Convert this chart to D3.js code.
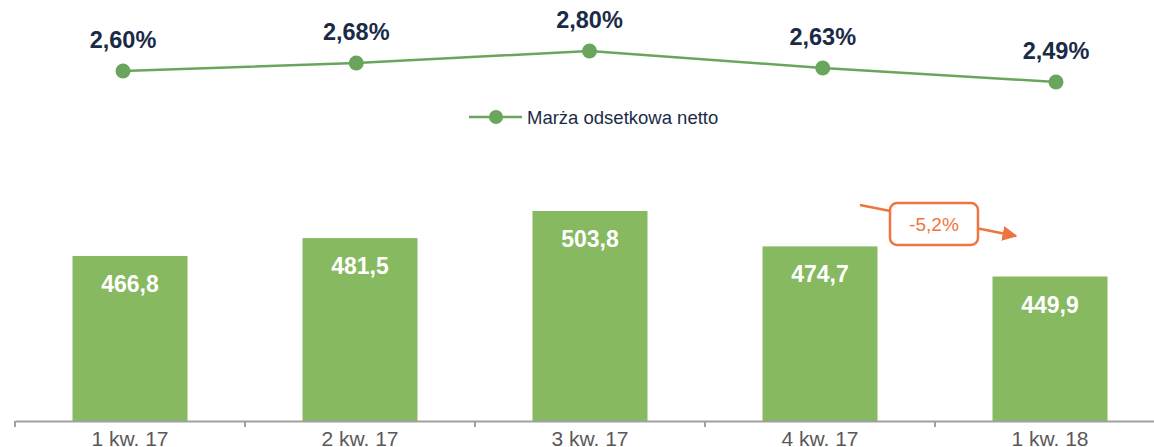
<!DOCTYPE html>
<html>
<head>
<meta charset="utf-8">
<script src="https://cdn.jsdelivr.net/npm/d3@7"></script>
<style>
  body { margin: 0; background: #fff; }
  svg { display: block; font-family: "Liberation Sans", Arial, sans-serif; }
</style>
</head>
<body>
<div id="chart"></div>
<script>
'use strict';

/** Data */
const quarters = ["1 kw. 17", "2 kw. 17", "3 kw. 17", "4 kw. 17", "1 kw. 18"];
const income = [466.8, 481.5, 503.8, 474.7, 449.9];
const margin = [2.60, 2.68, 2.80, 2.63, 2.49];
const seriesName = "Marża odsetkowa netto";
const changeLabel = "-5,2%";

const w = 1154;
const h = 447;
const green = "#86b960";
const lineGreen = "#6aa55d";
const navy = "#1b2b47";
const orange = "#ee7440";

const fmt = (v, d) => v.toFixed(d).replace(".", ",");

const svg = d3.select("#chart").append("svg")
  .attr("width", w)
  .attr("height", h);

/** Bars */
const xBand = d3.scaleBand()
  .domain(quarters)
  .range([15, 1165])
  .paddingInner(0.5)
  .paddingOuter(0.25);

const yBar = d3.scaleLinear()
  .domain([331, 503.8])
  .range([421, 211]);

svg.append("g").selectAll("rect")
  .data(quarters)
  .enter().append("rect")
  .attr("x", d => xBand(d))
  .attr("y", (d, i) => yBar(income[i]))
  .attr("width", xBand.bandwidth())
  .attr("height", (d, i) => yBar.range()[0] - yBar(income[i]))
  .attr("fill", green);

svg.append("g").selectAll("text")
  .data(quarters)
  .enter().append("text")
  .attr("x", d => xBand(d) + xBand.bandwidth() / 2)
  .attr("y", (d, i) => yBar(income[i]) + 36)
  .attr("text-anchor", "middle")
  .attr("fill", "#fff")
  .attr("font-weight", "bold")
  .attr("font-size", 23)
  .text((d, i) => fmt(income[i], 1));

/** X axis: line with ticks on category boundaries */
const axisG = svg.append("g").attr("transform", "translate(0,421)");
const xAxis = d3.axisBottom(xBand).tickSize(0).tickSizeOuter(0);
axisG.call(xAxis);
axisG.select(".domain").attr("stroke", "#a0a0a0").attr("stroke-width", 2);
axisG.selectAll(".tick text")
  .attr("y", 25)
  .attr("dy", 0)
  .attr("font-size", 21)
  .attr("font-family", "Liberation Sans, Arial, sans-serif")
  .attr("fill", "#595959");

const bounds = quarters.map(q => xBand(q) - xBand.step() * xBand.paddingOuter());
axisG.selectAll("line.sep")
  .data(bounds)
  .enter().append("line")
  .attr("class", "sep")
  .attr("x1", d => d).attr("x2", d => d)
  .attr("y1", 0).attr("y2", 6)
  .attr("stroke", "#a0a0a0")
  .attr("stroke-width", 2);

/** Line series */
const xPoint = d3.scalePoint().domain(quarters).range([123, 1056]);
const yLine = d3.scaleLinear().domain([2.49, 2.80]).range([82, 51]);

const line = d3.line()
  .x((d, i) => xPoint(quarters[i]))
  .y(d => yLine(d));

svg.append("path")
  .datum(margin)
  .attr("d", line)
  .attr("fill", "none")
  .attr("stroke", lineGreen)
  .attr("stroke-width", 2.5);

svg.append("g").selectAll("circle")
  .data(margin)
  .enter().append("circle")
  .attr("cx", (d, i) => xPoint(quarters[i]))
  .attr("cy", d => yLine(d))
  .attr("r", 7.5)
  .attr("fill", lineGreen);

svg.append("g").selectAll("text")
  .data(margin)
  .enter().append("text")
  .attr("x", (d, i) => xPoint(quarters[i]))
  .attr("y", d => yLine(d) - 23)
  .attr("text-anchor", "middle")
  .attr("fill", navy)
  .attr("font-weight", "bold")
  .attr("font-size", 23.5)
  .text(d => fmt(d, 2) + "%");

/** Legend */
const legend = svg.append("g").attr("transform", "translate(469,117)");
legend.append("line")
  .attr("x1", 0).attr("x2", 53)
  .attr("stroke", lineGreen).attr("stroke-width", 2.5);
legend.append("circle")
  .attr("cx", 27).attr("r", 7)
  .attr("fill", lineGreen);
legend.append("text")
  .attr("x", 58).attr("y", 6.5)
  .attr("font-size", 18.5)
  .attr("fill", navy)
  .text(seriesName);

/** Change annotation */
const defs = svg.append("defs");
defs.append("marker")
  .attr("id", "arrow")
  .attr("viewBox", "0 0 10 10")
  .attr("refX", 9).attr("refY", 5)
  .attr("markerWidth", 6).attr("markerHeight", 6)
  .attr("markerUnits", "strokeWidth")
  .attr("orient", "auto")
  .append("path")
  .attr("d", "M0,0 L10,5 L0,10 z")
  .attr("fill", orange);

svg.append("line")
  .attr("x1", 860).attr("y1", 205)
  .attr("x2", 1016).attr("y2", 236)
  .attr("stroke", orange)
  .attr("stroke-width", 2.5)
  .attr("marker-end", "url(#arrow)");

svg.append("rect")
  .attr("x", 890).attr("y", 203)
  .attr("width", 88).attr("height", 42)
  .attr("rx", 7)
  .attr("fill", "#fff")
  .attr("stroke", orange)
  .attr("stroke-width", 2.5);

svg.append("text")
  .attr("x", 934).attr("y", 231)
  .attr("text-anchor", "middle")
  .attr("font-size", 19)
  .attr("fill", orange)
  .text(changeLabel);
</script>
</body>
</html>
